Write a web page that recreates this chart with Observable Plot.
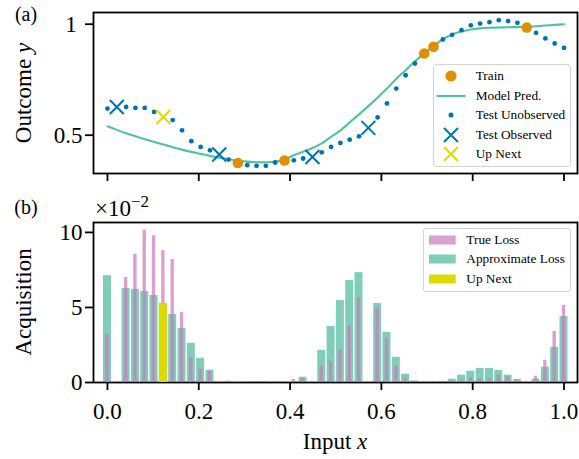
<!DOCTYPE html>
<html>
<head>
<meta charset="utf-8">
<script src="https://cdn.jsdelivr.net/npm/d3@7"></script>
<script src="https://cdn.jsdelivr.net/npm/@observablehq/plot@0.6"></script>
<style>
  body { margin: 0; background: #fff; }
  #root { position: relative; width: 579px; height: 459px; font-family: "Liberation Serif", "Times New Roman", serif; color: #000; overflow: hidden; }
  .panel { position: absolute; left: 0; }
  .lbl { position: absolute; white-space: nowrap; line-height: 1; }
  .rot { transform: translate(-50%, -50%) rotate(-90deg); }
  .ctr { transform: translate(-50%, -50%); }
  .legend { position: absolute; background: rgba(255,255,255,0.85); border: 1.3px solid #d3d3d3; border-radius: 3px; box-sizing: border-box; }
  .row { position: absolute; left: 0; height: 20px; width: 100%; }
  .row svg { position: absolute; top: 0; }
  .row span { position: absolute; top: 2px; font-size: 13.3px; line-height: 16px; white-space: nowrap; }
</style>
</head>
<body>
<div id="root"></div>
<script>
// ---------------- data ----------------
const gridX = [0, 0.0204, 0.0408, 0.0612, 0.0816, 0.1020, 0.1224, 0.1429, 0.1633, 0.1837,
  0.2041, 0.2245, 0.2449, 0.2653, 0.2857, 0.3061, 0.3265, 0.3469, 0.3673, 0.3878,
  0.4082, 0.4286, 0.4490, 0.4694, 0.4898, 0.5102, 0.5306, 0.5510, 0.5714, 0.5918,
  0.6122, 0.6327, 0.6531, 0.6735, 0.6939, 0.7143, 0.7347, 0.7551, 0.7755, 0.7959,
  0.8163, 0.8367, 0.8571, 0.8776, 0.8980, 0.9184, 0.9388, 0.9592, 0.9796, 1.0];

const outcomeY = [0.620, 0.627, 0.627, 0.623, 0.623, 0.605, 0.582, 0.568, 0.522, 0.473,
  0.447, 0.432, 0.413, 0.390, 0.375, 0.365, 0.362, 0.362, 0.377, 0.386,
  0.387, 0.395, 0.402, 0.423, 0.447, 0.465, 0.480, 0.495, 0.533, 0.580,
  0.643, 0.710, 0.770, 0.823, 0.868, 0.898, 0.931, 0.952, 0.973, 0.995,
  1.003, 1.009, 1.018, 1.014, 1.006, 0.985, 0.961, 0.936, 0.913, 0.893];

const predY = [0.540, 0.524, 0.509, 0.495, 0.482, 0.470, 0.458, 0.446, 0.435, 0.425,
  0.416, 0.407, 0.399, 0.392, 0.386, 0.381, 0.378, 0.378, 0.381, 0.389,
  0.410, 0.425, 0.442, 0.463, 0.493, 0.521, 0.558, 0.594, 0.631, 0.670,
  0.710, 0.754, 0.793, 0.833, 0.868, 0.902, 0.932, 0.954, 0.967, 0.976,
  0.981, 0.984, 0.985, 0.986, 0.987, 0.988, 0.991, 0.994, 0.997, 1.000];

const trainIdx = [14, 19, 34, 35, 45];
const observedIdx = [1, 12, 22, 28];
const nextIdx = [6];

// acquisition values, in units of 1e-2
const trueLoss = [3.20, 0.08, 7.00, 8.54, 10.15, 9.78, 8.79, 8.19, 4.67, 1.68,
  0.88, 0.75, 0.08, 0.10, 0.08, 0.08, 0.08, 0.08, 0.08, 0.08,
  0.20, 0.28, 0.08, 1.08, 1.41, 2.14, 3.80, 5.66, 0.08, 4.99,
  2.94, 1.08, 0.28, 0.08, 0.08, 0.08, 0.08, 0.10, 0.12, 0.31,
  0.22, 0.26, 0.49, 0.37, 0.15, 0.08, 0.42, 1.48, 3.40, 5.13];

const approxLoss = [7.12, 0, 6.26, 6.20, 6.06, 5.80, 5.27, 4.53, 3.60, 2.61,
  1.61, 0.82, 0, 0.05, 0, 0.03, 0.06, 0.06, 0.03, 0,
  0.05, 0.35, 0, 2.14, 3.73, 5.46, 6.79, 7.32, 0, 5.26,
  3.34, 1.68, 0.55, 0.10, 0, 0, 0.05, 0.22, 0.49, 0.75,
  0.93, 0.93, 0.80, 0.49, 0.20, 0, 0.22, 1.01, 2.34, 4.40];

const xTicks = [0, 0.2, 0.4, 0.6, 0.8, 1.0];
const xTickLabels = ["0.0", "0.2", "0.4", "0.6", "0.8", "1.0"];
const yTicksTop = [0.5, 1];
const yTickLabelsTop = ["0.5", "1\u2008"];
const yTicksBottom = [0, 5, 10];
const yTickLabelsBottom = ["0", "5", "10"];

const legendTop = ["Train", "Model Pred.", "Test Unobserved", "Test Observed", "Up Next"];
const legendBottom = ["True Loss", "Approximate Loss", "Up Next"];

// ---------------- styles ----------------
const C = {
  blue: "#0173B2", orange: "#DE8F05", green: "#029E73", line: "#50C29F",
  pink: "#CC78BC", yellow: "#DEDA00"
};
const FONT = "Liberation Serif, Times New Roman, serif";
const xDomain = [-0.0306, 1.0296];
const approxW = 0.0175, trueW = 0.0074;

const pts = gridX.map((x, i) => ({
  i, x, y: outcomeY[i], pred: predY[i], tl: trueLoss[i], al: approxLoss[i]
}));
const isTrain = d => trainIdx.includes(d.i);
const isObs = d => observedIdx.includes(d.i);
const isNext = d => nextIdx.includes(d.i);
const unobserved = pts.filter(d => !isTrain(d) && !isObs(d) && !isNext(d));
const observed = pts.filter(isObs);
const upNext = pts.filter(isNext);
const train = pts.filter(isTrain);

const root = document.getElementById("root");

// ---------------- top panel ----------------
const topPlot = Plot.plot({
  width: 579, height: 190,
  marginLeft: 93, marginRight: 2, marginTop: 12, marginBottom: 17,
  style: { fontFamily: FONT, fontSize: "23px", color: "black", background: "transparent", overflow: "visible" },
  x: { domain: xDomain, label: null },
  y: { domain: [0.3275, 1.0527], label: null },
  marks: [
    Plot.line(pts, { x: "x", y: "pred", stroke: C.line, strokeWidth: 2.1, curve: "catmull-rom" }),
    Plot.dot(unobserved, { x: "x", y: "y", r: 2.4, fill: C.blue, stroke: "none" }),
    Plot.dot(observed, { x: "x", y: "y", symbol: "times", r: 6.4, stroke: C.blue, strokeWidth: 2 }),
    Plot.dot(upNext, { x: "x", y: "y", symbol: "times", r: 6.4, stroke: C.yellow, strokeWidth: 2 }),
    Plot.dot(train, { x: "x", y: "y", r: 5.3, fill: C.orange, stroke: "none" }),
    Plot.frame({ stroke: "black", strokeWidth: 1.8 }),
    Plot.axisX(xTicks, { tickSize: 8, strokeWidth: 1.8, tickFormat: () => "" }),
    Plot.axisY(yTicksTop, { tickSize: 8, strokeWidth: 1.8, tickPadding: 3, fontSize: 23,
      tickFormat: d => yTickLabelsTop[yTicksTop.indexOf(d)] })
  ]
});
const topWrap = document.createElement("div");
topWrap.className = "panel"; topWrap.style.top = "0px";
topWrap.appendChild(topPlot);
root.appendChild(topWrap);

// ---------------- bottom panel ----------------
const bottomPlot = Plot.plot({
  width: 579, height: 269,
  marginLeft: 93, marginRight: 2, marginTop: 32, marginBottom: 77,
  style: { fontFamily: FONT, fontSize: "23px", color: "black", background: "transparent", overflow: "visible" },
  x: { domain: xDomain, label: null },
  y: { domain: [0, 10.66], label: null },
  marks: [
    Plot.frame({ stroke: "black", strokeWidth: 1.8 }),
    Plot.rectY(pts, { x1: d => d.x - approxW / 2, x2: d => d.x + approxW / 2, y: "al",
      fill: C.green, fillOpacity: 0.5 }),
    Plot.rectY(pts, { x1: d => d.x - trueW / 2, x2: d => d.x + trueW / 2, y: "tl",
      fill: C.pink, fillOpacity: 0.7 }),
    Plot.rectY(upNext, { x1: d => d.x - approxW / 2, x2: d => d.x + approxW / 2, y: "al",
      fill: C.yellow }),
    Plot.axisX(xTicks, { tickSize: 8, strokeWidth: 1.8, tickPadding: 12, fontSize: 23,
      tickFormat: d => xTickLabels[xTicks.indexOf(d)] }),
    Plot.axisY(yTicksBottom, { tickSize: 8, strokeWidth: 1.8, tickPadding: 3, fontSize: 23,
      tickFormat: d => yTickLabelsBottom[yTicksBottom.indexOf(d)] })
  ]
});
const botWrap = document.createElement("div");
botWrap.className = "panel"; botWrap.style.top = "190px";
botWrap.appendChild(bottomPlot);
root.appendChild(botWrap);

// ---------------- text labels ----------------
function addLabel(html, cls, left, topPx, size) {
  const d = document.createElement("div");
  d.className = "lbl " + cls;
  d.style.left = left + "px"; d.style.top = topPx + "px"; d.style.fontSize = size + "px";
  d.innerHTML = html;
  root.appendChild(d);
}
addLabel("Outcome <i>y</i>", "rot", 23, 92.8, 23);
addLabel("Acquisition", "rot", 23, 302, 23);
addLabel("Input <i>x</i>", "ctr", 335, 441, 23);
addLabel("(a)", "ctr", 26, 14, 20);
addLabel("(b)", "ctr", 26, 207, 20);
addLabel("×10<span style=\"font-size:17px;position:relative;top:-9px\">−2</span>", "", 95, 197, 23);

// ---------------- legends ----------------
function legendBox(left, topPx, w, h) {
  const b = document.createElement("div");
  b.className = "legend";
  b.style.left = left + "px"; b.style.top = topPx + "px";
  b.style.width = w + "px"; b.style.height = h + "px";
  root.appendChild(b);
  return b;
}
const topMarkers = [
  `<circle cx="15" cy="10" r="5.6" fill="${C.orange}"/>`,
  `<line x1="0.5" x2="29.5" y1="10" y2="10" stroke="${C.line}" stroke-width="2.1"/>`,
  `<circle cx="15" cy="10" r="2.5" fill="${C.blue}"/>`,
  `<path d="M8,3L22,17M8,17L22,3" stroke="${C.blue}" stroke-width="2" fill="none"/>`,
  `<path d="M8,3L22,17M8,17L22,3" stroke="${C.yellow}" stroke-width="2" fill="none"/>`
];
const lt = legendBox(432.7, 64, 138.5, 103);
const topRowY = [12, 32, 51.3, 71, 90.5];
legendTop.forEach((label, k) => {
  const r = document.createElement("div");
  r.className = "row"; r.style.top = (topRowY[k] - 10 - 1.3) + "px";
  r.innerHTML = `<svg width="30" height="20" style="left:2.7px">${topMarkers[k]}</svg><span style="left:42px">${label}</span>`;
  lt.appendChild(r);
});

const botColors = [
  [C.pink, 0.7], [C.green, 0.5], [C.yellow, 1]
];
const lb = legendBox(423.3, 228.3, 148, 63.5);
const botRowY = [11.7, 31.5, 50.8];
legendBottom.forEach((label, k) => {
  const r = document.createElement("div");
  r.className = "row"; r.style.top = (botRowY[k] - 10 - 1.3) + "px";
  r.innerHTML = `<svg width="30" height="20" style="left:4.4px"><rect x="0" y="5.5" width="26.7" height="9" fill="${botColors[k][0]}" fill-opacity="${botColors[k][1]}"/></svg><span style="left:42px">${label}</span>`;
  lb.appendChild(r);
});
</script>
</body>
</html>
